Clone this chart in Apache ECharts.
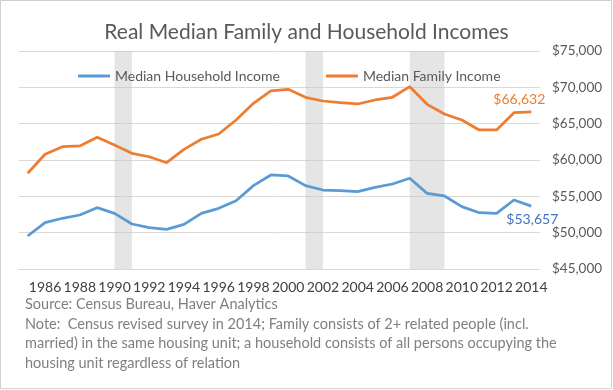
<!DOCTYPE html>
<html><head><meta charset="utf-8">
<script src="https://cdn.jsdelivr.net/npm/echarts@6/dist/echarts.min.js"></script>
<style>html,body{margin:0;padding:0;background:#fff}#c{width:613px;height:390px}</style>
</head><body><div id="c"></div>
<script>
const years = ['1985','1986','1987','1988','1989','1990','1991','1992','1993','1994','1995','1996','1997','1998','1999','2000','2001','2002','2003','2004','2005','2006','2007','2008','2009','2010','2011','2012','2013','2014'];
const householdIncome = [49540,51380,51980,52430,53440,52660,51190,50690,50460,51150,52660,53350,54400,56470,57940,57800,56470,55870,55780,55640,56240,56700,57480,55410,55050,53580,52750,52660,54500,53657];
const familyIncome = [58170,60790,61830,61930,63120,62060,60920,60450,59630,61470,62850,63580,65510,67800,69500,69730,68630,68120,67890,67710,68260,68630,70090,67660,66330,65510,64130,64130,66510,66632];
const recessions = [['1990','1991'],['2001','2002'],['2007','2009']];
const yTicks = {min:45000, max:75000, interval:5000};
const titleText = 'Real Median Family and Household Incomes';
const seriesNames = ['Median Household Income','Median Family Income'];
const noteLines = [
  'Source: Census Bureau, Haver Analytics',
  'Note:  Census revised survey in 2014; Family consists of 2+ related people (incl.',
  'married) in the same housing unit; a household consists of all persons occupying the',
  'housing unit regardless of relation'
];

const FONT = "Lato, 'Open Sans', sans-serif";
const fmt = v => '$' + Number(v).toLocaleString('en-US');
const last = years.length - 1;

const chart = echarts.init(document.getElementById('c'), null, {renderer:'canvas'});
chart.setOption({
  backgroundColor:'#fff',
  animation:false,
  textStyle:{fontFamily:FONT},
  title:{text:titleText, left:'center', top:17,
    textStyle:{fontFamily:FONT, fontSize:21, fontWeight:'normal', color:'#595959'}},
  legend:{data:seriesNames, left:73, top:63, icon:'rect', itemWidth:32, itemGap:46, itemHeight:3,
    textStyle:{fontFamily:FONT, fontSize:14, color:'#595959', lineHeight:16}},
  grid:{left:19, right:73, top:51, bottom:121, containLabel:false, outerBoundsMode:'none'},
  xAxis:{type:'category', data:years, boundaryGap:true,
    axisLine:{lineStyle:{color:'#d9d9d9'}}, axisTick:{show:false},
    axisLabel:{interval:(i)=> i%2===1, color:'#404040', fontSize:14, fontFamily:FONT, margin:11}},
  yAxis:{type:'value', position:'right', min:yTicks.min, max:yTicks.max, interval:yTicks.interval,
    axisLine:{show:false}, axisTick:{show:false},
    splitLine:{lineStyle:{color:'#d9d9d9', width:1}},
    axisLabel:{formatter:fmt, color:'#595959', fontSize:13.5, fontFamily:FONT, margin:12}},
  series:[
    {name:seriesNames[0], type:'line', data:householdIncome, symbol:'none', z:2,
      lineStyle:{width:2.75, color:'#5b9bd5'}, itemStyle:{color:'#5b9bd5'},
      markPoint:{symbol:'circle', symbolSize:1, itemStyle:{color:'rgba(0,0,0,0)'},
        data:[{coord:[years[last], householdIncome[last]], value:householdIncome[last]}],
        label:{show:true, position:'bottom', distance:6, offset:[1,0], formatter:p=>fmt(p.value),
          color:'#4472c4', fontSize:14, fontFamily:FONT}}},
    {name:seriesNames[1], type:'line', data:familyIncome, symbol:'none', z:2,
      lineStyle:{width:2.75, color:'#ed7d31'}, itemStyle:{color:'#ed7d31'},
      markPoint:{symbol:'circle', symbolSize:1, itemStyle:{color:'rgba(0,0,0,0)'},
        data:[{coord:[years[last], familyIncome[last]], value:familyIncome[last]}],
        label:{show:true, position:'top', distance:5, offset:[-12,0], formatter:p=>fmt(p.value),
          color:'#ed7d31', fontSize:14, fontFamily:FONT}}},
    {type:'line', data:[], z:5, silent:true,
      markArea:{silent:true, itemStyle:{color:'rgba(200,198,198,0.45)'},
        data:recessions.map(r=>[{xAxis:r[0]},{xAxis:r[1]}])}}
  ],
  graphic:[
    {type:'rect', shape:{x:0.5, y:0.5, width:611, height:388}, style:{fill:'none', stroke:'#d0d0d0', lineWidth:1}, silent:true},
    ...noteLines.map((t,i)=>({type:'text', left:25, top:297 + i*19.6,
      style:{text:t, fill:'#7f7f7f', font:'14.5px ' + FONT}}))
  ]
});
</script></body></html>
